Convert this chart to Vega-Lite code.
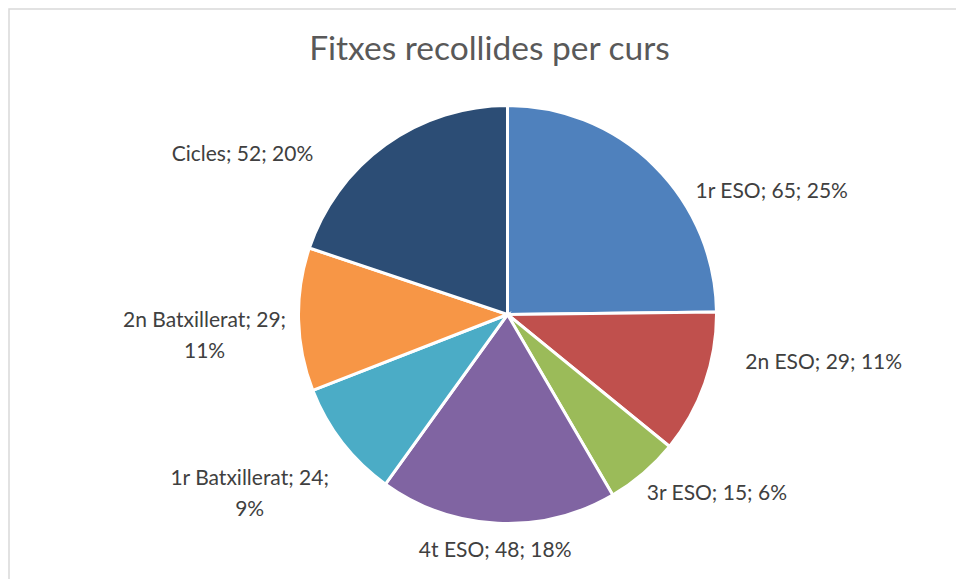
{
  "$schema": "https://vega.github.io/schema/vega-lite/v6.json",
  "width": 997,
  "height": 611,
  "autosize": {"type": "none"},
  "padding": {"left": 9, "top": 9, "right": -50, "bottom": -41},
  "background": "#ffffff",
  "view": {"stroke": "#d9d9d9", "strokeWidth": 1.5, "fill": "#ffffff"},
  "title": {
    "text": "Fitxes recollides per curs",
    "font": "Lato",
    "fontSize": 33.5,
    "fontWeight": "normal",
    "color": "#595959",
    "anchor": "middle",
    "frame": "group",
    "baseline": "alphabetic",
    "offset": -107,
    "dx": -18
  },
  "config": {
    "text": {"font": "Lato", "fontSize": 21, "fill": "#404040", "lineBreak": "\n", "lineHeight": 31, "align": "center", "baseline": "middle"}
  },
  "data": {
    "values": [
      {"curs": "1r ESO", "fitxes": 65, "ordre": 1, "etiqueta": "1r ESO; 65; 25%"},
      {"curs": "2n ESO", "fitxes": 29, "ordre": 2, "etiqueta": "2n ESO; 29; 11%"},
      {"curs": "3r ESO", "fitxes": 15, "ordre": 3, "etiqueta": "3r ESO; 15; 6%"},
      {"curs": "4t ESO", "fitxes": 48, "ordre": 4, "etiqueta": "4t ESO; 48; 18%"},
      {"curs": "1r Batxillerat", "fitxes": 24, "ordre": 5, "etiqueta": "1r Batxillerat; 24;\n9%"},
      {"curs": "2n Batxillerat", "fitxes": 29, "ordre": 6, "etiqueta": "2n Batxillerat; 29;\n11%"},
      {"curs": "Cicles", "fitxes": 52, "ordre": 7, "etiqueta": "Cicles; 52; 20%"}
    ]
  },
  "encoding": {
    "theta": {"field": "fitxes", "type": "quantitative", "stack": true},
    "order": {"field": "ordre", "type": "quantitative"}
  },
  "layer": [
    {
      "mark": {"type": "arc", "radius": 209, "stroke": "#ffffff", "strokeWidth": 3},
      "encoding": {
        "color": {
          "field": "curs",
          "type": "nominal",
          "legend": null,
          "scale": {
            "domain": ["1r ESO", "2n ESO", "3r ESO", "4t ESO", "1r Batxillerat", "2n Batxillerat", "Cicles"],
            "range": ["#4f81bd", "#c0504d", "#9bbb59", "#8064a2", "#4bacc6", "#f79646", "#2c4d75"]
          }
        }
      }
    },
    {
      "mark": {"type": "text", "radius": 292, "dx": 59, "dy": 85},
      "encoding": {"text": {"condition": {"test": "datum.curs === '1r ESO'", "field": "etiqueta"}, "value": ""}}
    },
    {
      "mark": {"type": "text", "radius": 320, "dx": 14, "dy": -57},
      "encoding": {"text": {"condition": {"test": "datum.curs === '2n ESO'", "field": "etiqueta"}, "value": ""}}
    },
    {
      "mark": {"type": "text", "radius": 276, "dx": 30, "dy": -30},
      "encoding": {"text": {"condition": {"test": "datum.curs === '3r ESO'", "field": "etiqueta"}, "value": ""}}
    },
    {
      "mark": {"type": "text", "radius": 237, "dx": -1, "dy": 0},
      "encoding": {"text": {"condition": {"test": "datum.curs === '4t ESO'", "field": "etiqueta"}, "value": ""}}
    },
    {
      "mark": {"type": "text", "radius": 306, "dx": -16, "dy": -23},
      "encoding": {"text": {"condition": {"test": "datum.curs === '1r Batxillerat'", "field": "etiqueta"}, "value": ""}}
    },
    {
      "mark": {"type": "text", "radius": 302, "dx": -1, "dy": -1},
      "encoding": {"text": {"condition": {"test": "datum.curs === '2n Batxillerat'", "field": "etiqueta"}, "value": ""}}
    },
    {
      "mark": {"type": "text", "radius": 310, "dx": -84, "dy": 92},
      "encoding": {"text": {"condition": {"test": "datum.curs === 'Cicles'", "field": "etiqueta"}, "value": ""}}
    }
  ]
}
